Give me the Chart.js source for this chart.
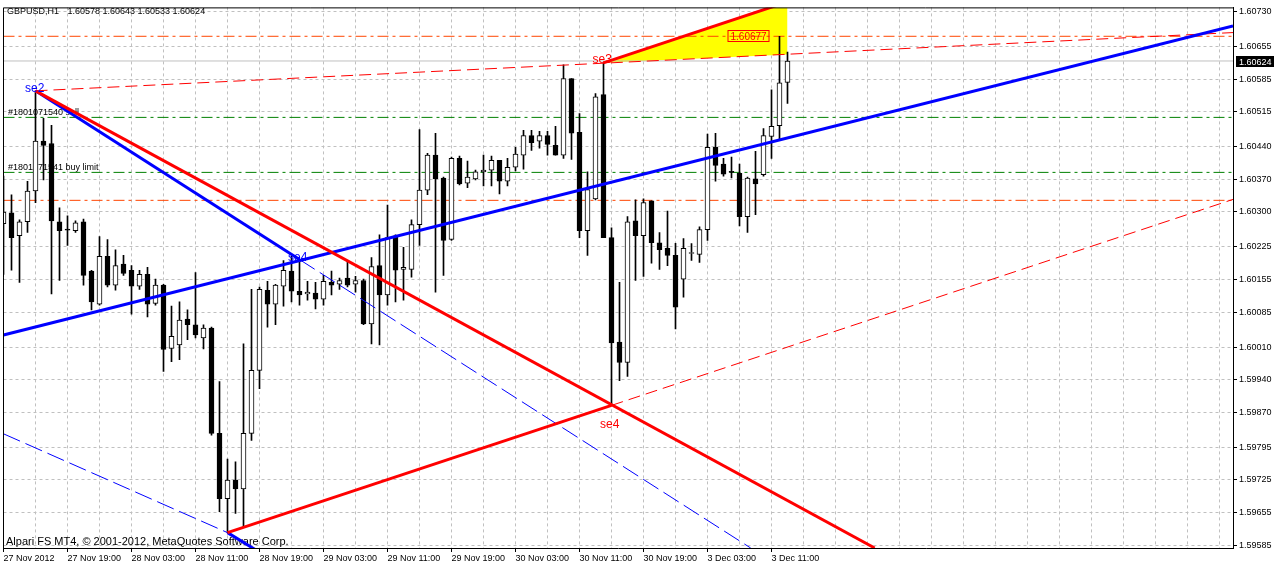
<!DOCTYPE html>
<html><head><meta charset="utf-8">
<script src="https://cdn.jsdelivr.net/npm/chart.js@4.4.1/dist/chart.umd.min.js"></script>
<style>html,body{margin:0;padding:0;background:#fff;overflow:hidden}canvas{display:block}</style>
</head><body>
<canvas id="c" width="1274" height="566"></canvas>
<script>
// ---------- data ----------
const symbol = 'GBPUSD,H1';
const xTickLabels = ['27 Nov 2012','27 Nov 19:00','28 Nov 03:00','28 Nov 11:00','28 Nov 19:00','29 Nov 03:00','29 Nov 11:00','29 Nov 19:00','30 Nov 03:00','30 Nov 11:00','30 Nov 19:00','3 Dec 03:00','3 Dec 11:00'];
const yTickLabels = ['1.60730','1.60655','1.60585','1.60515','1.60440','1.60370','1.60300','1.60225','1.60155','1.60085','1.60010','1.59940','1.59870','1.59795','1.59725','1.59655','1.59585'];

const opens  = [1.60275,1.60298,1.60249,1.60279,1.60345,1.60452,1.60447,1.60279,1.60262,1.60260,1.60279,1.60173,1.60102,1.60205,1.60143,1.60188,1.60175,1.60141,1.60166,1.60104,1.60143,1.60007,1.60015,1.60070,1.60058,1.60030,1.60051,1.59825,1.59685,1.59725,1.59706,1.59825,1.59960,1.60132,1.60102,1.60141,1.60173,1.60130,1.60124,1.60126,1.60113,1.60149,1.60145,1.60158,1.60145,1.60153,1.60060,1.60185,1.60122,1.60249,1.60177,1.60177,1.60273,1.60347,1.60422,1.60373,1.60241,1.60415,1.60362,1.60371,1.60386,1.60390,1.60411,1.60366,1.60396,1.60422,1.60464,1.60452,1.60464,1.60443,1.60422,1.60586,1.60471,1.60260,1.60328,1.60552,1.60245,1.60021,1.59977,1.60281,1.60249,1.60324,1.60234,1.60222,1.60207,1.60156,1.60211,1.60209,1.60262,1.60439,1.60403,1.60386,1.60383,1.60290,1.60371,1.60380,1.60462,1.60485,1.60578];
const highs  = [1.60377,1.60337,1.60283,1.60366,1.60560,1.60501,1.60486,1.60309,1.60292,1.60281,1.60285,1.60175,1.60247,1.60241,1.60219,1.60207,1.60185,1.60175,1.60181,1.60156,1.60145,1.60098,1.60107,1.60090,1.60170,1.60058,1.60053,1.59936,1.59770,1.59764,1.60017,1.60134,1.60139,1.60151,1.60145,1.60196,1.60205,1.60198,1.60151,1.60149,1.60164,1.60173,1.60158,1.60196,1.60162,1.60156,1.60202,1.60251,1.60315,1.60251,1.60224,1.60283,1.60477,1.60426,1.60469,1.60375,1.60418,1.60420,1.60409,1.60390,1.60422,1.60420,1.60411,1.60415,1.60439,1.60475,1.60475,1.60473,1.60473,1.60484,1.60616,1.60586,1.60511,1.60386,1.60554,1.60620,1.60266,1.60149,1.60290,1.60326,1.60328,1.60324,1.60256,1.60302,1.60233,1.60243,1.60232,1.60268,1.60467,1.60469,1.60415,1.60418,1.60403,1.60375,1.60430,1.60479,1.60562,1.60677,1.60643];
const lows   = [1.60166,1.60175,1.60149,1.60256,1.60320,1.60369,1.60124,1.60153,1.60228,1.60256,1.60143,1.60090,1.60100,1.60139,1.60132,1.60164,1.60081,1.60134,1.60075,1.60100,1.59958,1.59979,1.59983,1.60026,1.60030,1.60006,1.59821,1.59657,1.59612,1.59653,1.59623,1.59810,1.59921,1.60053,1.60058,1.60098,1.60107,1.60100,1.60111,1.60092,1.60100,1.60122,1.60134,1.60139,1.60128,1.60058,1.60017,1.60015,1.60100,1.60107,1.60111,1.60160,1.60228,1.60337,1.60128,1.60164,1.60239,1.60358,1.60352,1.60369,1.60356,1.60356,1.60339,1.60356,1.60388,1.60392,1.60432,1.60437,1.60422,1.60422,1.60415,1.60413,1.60245,1.60207,1.60326,1.60245,1.59885,1.59938,1.59947,1.60153,1.60162,1.60190,1.60177,1.60185,1.60049,1.60117,1.60196,1.60192,1.60239,1.60366,1.60377,1.60373,1.60270,1.60256,1.60294,1.60377,1.60415,1.60454,1.60533];
const closes = [1.60300,1.60245,1.60279,1.60345,1.60452,1.60443,1.60281,1.60260,1.60261,1.60277,1.60164,1.60107,1.60205,1.60143,1.60185,1.60168,1.60141,1.60166,1.60102,1.60143,1.60005,1.60033,1.60068,1.60058,1.60036,1.60051,1.59825,1.59685,1.59725,1.59706,1.59825,1.59960,1.60134,1.60102,1.60143,1.60175,1.60130,1.60122,1.60128,1.60113,1.60151,1.60143,1.60153,1.60143,1.60153,1.60060,1.60183,1.60122,1.60245,1.60175,1.60181,1.60273,1.60347,1.60422,1.60371,1.60239,1.60415,1.60360,1.60375,1.60386,1.60390,1.60411,1.60366,1.60396,1.60424,1.60464,1.60449,1.60464,1.60445,1.60422,1.60586,1.60469,1.60260,1.60348,1.60547,1.60245,1.60019,1.59977,1.60279,1.60249,1.60320,1.60234,1.60219,1.60207,1.60096,1.60222,1.60213,1.60262,1.60439,1.60400,1.60381,1.60385,1.60290,1.60373,1.60360,1.60464,1.60484,1.60577,1.60624];

const bidPrice = 1.60624;
const hLevels = [1.60677, 1.60503, 1.60385, 1.60325];
const orderNotes = ['', '#1801071540 sell', '#1801071541 buy limit', ''];
const highLabel = '1.60677';

// trend lines: [bar index, price]
const blueRay       = [[0, 1.60036], [153.69, 1.60699]];
const blueSe2Se4    = [[4, 1.60560], [37, 1.60198]];
const blueSe4Ext    = [[37, 1.60198], [93.4, 1.59579]];
const blueLowDashed = [[0, 1.59824], [28, 1.59612]];
const blueLowThick  = [[28, 1.59612], [32, 1.59570]];
const redSe2Down    = [[4, 1.60560], [108.9, 1.59579]];
const redLowUp      = [[28, 1.59612], [76, 1.59885]];
const redLowUpExt   = [[76, 1.59885], [153.69, 1.60327]];
const redSe2Se3     = [[4, 1.60560], [153.69, 1.60685]];
const redSe3Up      = [[75, 1.60620], [98, 1.60751]];
const yellowTop     = [[75, 1.60620], [98, 1.60751]];
const yellowBottom  = [[75, 1.60620], [98, 1.60638]];

const seTexts = [
  {t:'se2', bar:4,  p:1.60560, col:'#0000ff'},
  {t:'se4', bar:37, p:1.60198, col:'#0000ff'},
  {t:'se3', bar:75, p:1.60620, col:'#ff0000'},
  {t:'se4', bar:76, p:1.59885, col:'#ff0000'}
];
const copyright = 'Alpari FS MT4, \u00A9 2001-2012, MetaQuotes Software Corp.';

// ---------- layout / style ----------
const X_MAX = 153.6875;
const FONT = '"Liberation Sans", Arial, sans-serif';
const seOffsets = [[-10.5, 1], [-11.5, 1], [-11, 0], [-11.5, 23]];
const levelColors = ['#ff4500', '#008000', '#008000', '#ff4500'];
const dashDot = [11, 4, 3, 4];

Chart.defaults.font.family = FONT;
const pts = a => a.map(p => ({x: p[0], y: p[1]}));
function lineDs(points, color, width, dash, order) {
  return {type: 'line', data: pts(points), borderColor: color, borderWidth: width,
    borderDash: dash || [], pointRadius: 0, pointHoverRadius: 0, fill: false,
    tension: 0, clip: 0, order: order, borderCapStyle: 'butt'};
}

const wickDs = {type: 'bar', data: opens.map((o, i) => ({x: i, y: [lows[i], highs[i]]})),
  backgroundColor: '#000', borderWidth: 0, barThickness: 1, grouped: false, order: 6};
const bodyDs = {type: 'bar', data: opens.map((o, i) => ({x: i, y: [o, closes[i]]})),
  backgroundColor: opens.map((o, i) => closes[i] >= o ? '#ffffff' : '#000000'),
  borderColor: '#000', borderWidth: 1, borderSkipped: false, barThickness: 5,
  minBarLength: 1, grouped: false, order: 5};

const datasets = [
  {type: 'line', data: pts(yellowTop), borderColor: 'rgba(0,0,0,0)', borderWidth: 1, pointRadius: 0,
    fill: '+1', backgroundColor: '#ffff00', clip: 0, order: 10, tension: 0},
  {type: 'line', data: pts(yellowBottom), borderColor: 'rgba(0,0,0,0)', borderWidth: 1, pointRadius: 0,
    fill: false, clip: 0, order: 10, tension: 0},
  lineDs([[0, bidPrice], [X_MAX, bidPrice]], '#c0c0c0', 1, [], 9),
  ...hLevels.map((v, k) => lineDs([[0, v], [X_MAX, v]], levelColors[k], 1, dashDot, 8)),
  wickDs, bodyDs,
  lineDs(blueLowDashed, '#0000ff', 1, [18, 6], 3),
  lineDs(blueSe4Ext, '#0000ff', 1, [18, 6], 3),
  lineDs(redLowUpExt, '#ff0000', 1, [12, 6], 3),
  lineDs(redSe2Se3, '#ff0000', 1, [12, 6], 3),
  lineDs(blueRay, '#0000ff', 3, [], 2),
  lineDs(blueSe2Se4, '#0000ff', 3, [], 2),
  lineDs(blueLowThick, '#0000ff', 3, [], 2),
  lineDs(redSe2Down, '#ff0000', 3, [], 1),
  lineDs(redLowUp, '#ff0000', 3, [], 1),
  lineDs(redSe3Up, '#ff0000', 3, [], 1)
];

const overlay = {
  id: 'overlay',
  beforeDatasetsDraw(chart) {
    const {ctx, chartArea: a, scales: {y}} = chart;
    ctx.save();
    ctx.fillStyle = '#000';
    ctx.textBaseline = 'alphabetic';
    ctx.font = '9px ' + FONT;
    orderNotes.forEach((t, k) => { if (t) ctx.fillText(t, a.left + 4.5, y.getPixelForValue(hLevels[k]) - 2.5); });
    ctx.font = '11px ' + FONT;
    ctx.fillText(copyright, a.left + 2.5, a.bottom - 3);
    ctx.restore();
  },
  afterDatasetsDraw(chart) {
    const {ctx, chartArea: a, scales: {x, y}} = chart;
    ctx.save();
    // se labels
    ctx.font = '12px ' + FONT;
    ctx.textBaseline = 'alphabetic';
    seTexts.forEach((s, k) => {
      ctx.fillStyle = s.col;
      ctx.fillText(s.t, x.getPixelForValue(s.bar) + seOffsets[k][0], y.getPixelForValue(s.p) + seOffsets[k][1]);
    });
    // high price label box
    const hy = y.getPixelForValue(hLevels[0]);
    const bx = x.getPixelForValue(98) - 18;
    ctx.strokeStyle = '#ff0000'; ctx.lineWidth = 1;
    ctx.strokeRect(bx - 41.5, Math.round(hy) - 5.5, 41, 11);
    ctx.fillStyle = '#ff0000';
    ctx.font = '10px ' + FONT;
    ctx.fillText(highLabel, bx - 39, Math.round(hy) + 4);
    // frame top/left
    ctx.strokeStyle = '#000';
    ctx.beginPath();
    ctx.moveTo(Math.floor(a.left) + 0.5, a.bottom);
    ctx.lineTo(Math.floor(a.left) + 0.5, a.top + 0.5);
    ctx.lineTo(a.right, a.top + 0.5);
    ctx.stroke();
    // header
    ctx.fillStyle = '#000';
    ctx.font = '9px ' + FONT;
    const L = opens.length - 1;
    ctx.fillText(symbol, 7, 13.5);
    ctx.fillText([opens[L], highs[L], lows[L], closes[L]].map(v => v.toFixed(5)).join(' '), 67.5, 13.5);
    // bid price box on axis
    const by = Math.round(y.getPixelForValue(bidPrice));
    ctx.fillStyle = '#000';
    ctx.fillRect(a.right + 3, by - 5, 38, 11);
    ctx.fillStyle = '#fff';
    ctx.fillText(bidPrice.toFixed(5), a.right + 6, by + 3.5);
    ctx.restore();
  }
};

new Chart(document.getElementById('c'), {
  type: 'line',
  data: {datasets},
  options: {
    responsive: false, animation: false, devicePixelRatio: 1, events: [],
    layout: {padding: {left: 3.5, top: 3, right: 0, bottom: 0}},
    plugins: {legend: {display: false}, tooltip: {enabled: false}, title: {display: false}},
    scales: {
      x: {
        type: 'linear', position: 'bottom', min: 0, max: X_MAX, offset: false, bounds: 'data',
        afterBuildTicks: s => { const t = []; for (let v = 0; v <= 152; v += 4) t.push({value: v}); s.ticks = t; },
        ticks: {autoSkip: false, maxRotation: 0, minRotation: 0, align: 'start', padding: 1, color: '#000',
          font: {size: 9, family: FONT},
          callback: v => (v % 8 === 0 && v / 8 < xTickLabels.length) ? xTickLabels[v / 8] : ''},
        grid: {color: '#c0c0c0', lineWidth: 1, offset: false, drawTicks: true, tickLength: 4, tickWidth: 1,
          tickColor: c => (c.tick && c.tick.value % 8 === 0 && c.tick.value / 8 < xTickLabels.length) ? '#000' : 'rgba(0,0,0,0)'},
        border: {display: true, color: '#000', width: 1, dash: [3, 3]},
        afterFit: s => { s.height = 18; }
      },
      y: {
        type: 'linear', position: 'right', min: 1.59579, max: 1.60739, beginAtZero: false, bounds: 'data',
        afterBuildTicks: s => { s.ticks = yTickLabels.map(l => ({value: parseFloat(l)})); },
        ticks: {autoSkip: false, padding: 2, color: '#000', font: {size: 9, family: FONT},
          callback: (v, i) => yTickLabels[i]},
        grid: {color: '#c0c0c0', lineWidth: 1, drawTicks: true, tickLength: 4, tickColor: '#000'},
        border: {display: true, color: '#000', width: 1, dash: [3, 3]},
        afterFit: s => { s.width = 41; }
      }
    }
  },
  plugins: [overlay]
});
</script>
</body></html>
